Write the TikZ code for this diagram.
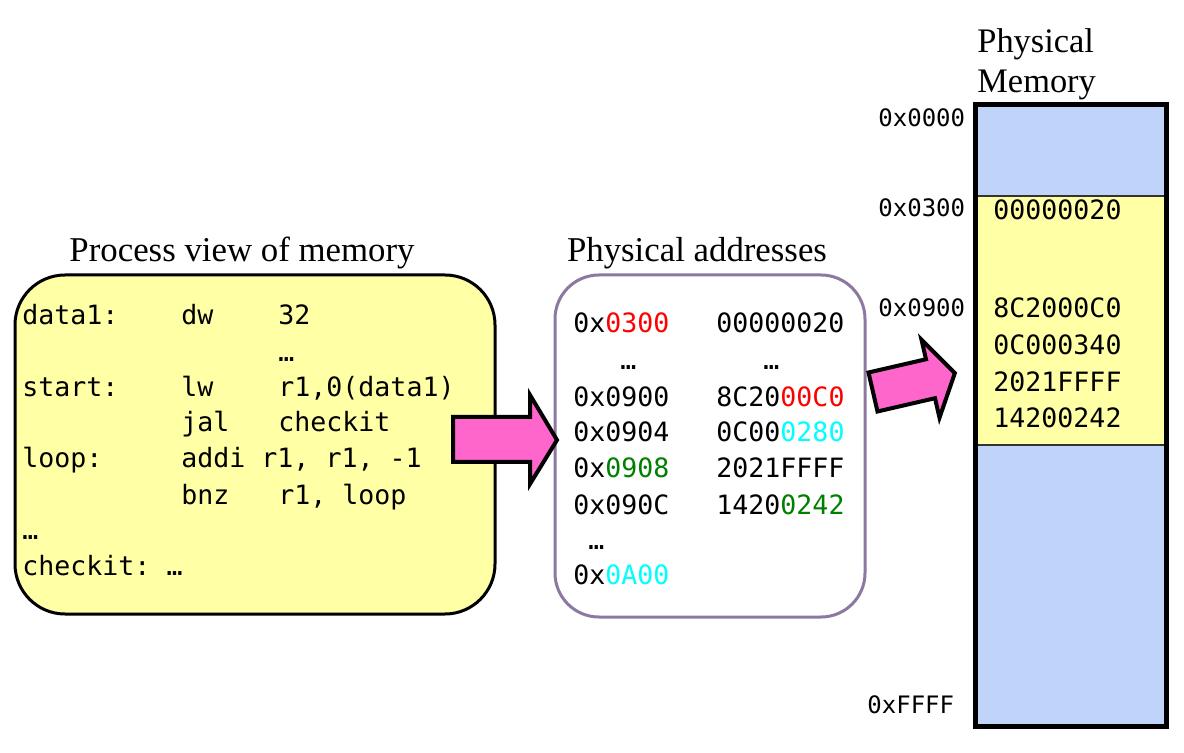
\documentclass[tikz,border=0pt]{standalone}
\usepackage{fontspec}
\setmonofont{DejaVu Sans Mono}
\newfontfamily\titlefont{Liberation Serif}
\definecolor{codeyellow}{RGB}{255,255,166}
\definecolor{memblue}{RGB}{192,212,250}
\definecolor{arrowpink}{RGB}{255,102,204}
\definecolor{boxpurple}{RGB}{140,120,160}
\definecolor{cred}{RGB}{255,0,0}
\definecolor{ccyan}{RGB}{0,255,255}
\definecolor{cgreen}{RGB}{0,128,0}
\begin{document}
\begin{tikzpicture}[x=0.5pt,y=-0.5pt,
  code/.style={anchor=base west, inner sep=0pt, font=\ttfamily\fontsize{13.3}{16}\selectfont},
  addr/.style={anchor=base west, inner sep=0pt, font=\ttfamily\fontsize{12}{14}\selectfont},
  title/.style={anchor=base, inner sep=0pt, font=\titlefont\fontsize{17.4}{20}\selectfont},
  memtitle/.style={anchor=base west, inner sep=0pt, font=\titlefont\fontsize{17.2}{20}\selectfont},
  procbox/.style={draw=black, line width=1.5pt, fill=codeyellow, rounded corners=25pt, inner sep=0pt},
  physbox/.style={draw=boxpurple, line width=1.5pt, fill=white, rounded corners=22pt, inner sep=0pt},
  blockarrow/.style={draw=black, line width=2pt, fill=arrowpink, line join=miter},
  memblock/.style={draw=black!80, line width=1pt, inner sep=0pt, minimum width=94.5pt},
]
\useasboundingbox (0,0) rectangle (1184,753);

% ---------- Process view ----------
\node[title] (ptitle) at (242,262) {Process view of memory};
\node[procbox, minimum width=240pt, minimum height=169.5pt] (proc) at (255,444.5) {};
\node[code] (c1a) at (22,325) {data1:};
\node[code] (c1b) at (181,325) {dw};
\node[code] (c1c) at (278,325) {32};
\node[code] (c2c) at (278,362) {…};
\node[code] (c3a) at (22,397) {start:};
\node[code] (c3b) at (181,397) {lw};
\node[code] (c3c) at (278,397) {r1,0(data1)};
\node[code] (c4b) at (181,432) {jal};
\node[code] (c4c) at (278,432) {checkit};
\node[code] (c5a) at (22,468) {loop:};
\node[code] (c5b) at (181,468) {addi r1, r1, -1};
\node[code] (c6b) at (181,505) {bnz};
\node[code] (c6c) at (278,505) {r1, loop};
\node[code] (c7a) at (22,540) {…};
\node[code] (c8a) at (22,575) {checkit: …};

% ---------- Physical addresses ----------
\node[title] (atitle) at (697,262) {Physical addresses};
\node[physbox, minimum width=155pt, minimum height=171pt] (phys) at (710,446) {};
\node[code] (p1a) at (573,333) {0x\textcolor{cred}{0300}};
\node[code] (p1b) at (716,333) {00000020};
\node[code] (p2a) at (620,370) {…};
\node[code] (p2b) at (763,370) {…};
\node[code] (p3a) at (573,407) {0x0900};
\node[code] (p3b) at (716,407) {8C20\textcolor{cred}{00C0}};
\node[code] (p4a) at (573,442) {0x0904};
\node[code] (p4b) at (716,442) {0C00\textcolor{ccyan}{0280}};
\node[code] (p5a) at (573,478) {0x\textcolor{cgreen}{0908}};
\node[code] (p5b) at (716,478) {2021FFFF};
\node[code] (p6a) at (573,515) {0x090C};
\node[code] (p6b) at (716,515) {1420\textcolor{cgreen}{0242}};
\node[code] (p7a) at (588,550) {…};
\node[code] (p8a) at (573,585) {0x\textcolor{ccyan}{0A00}};

% ---------- Arrow 1 ----------
\draw[blockarrow] (453,417) -- (530,417) -- (530,395) -- (557,440)
  -- (530,484) -- (530,462) -- (453,462) -- cycle;

% ---------- Physical memory ----------
\node[memtitle] (mt1) at (977,53) {Physical};
\node[memtitle] (mt2) at (977,93) {Memory};
\node[memblock, fill=memblue, minimum height=45pt, anchor=north west] (mtop) at (975.5,105) {};
\node[memblock, fill=codeyellow, minimum height=124.5pt, anchor=north west] (mmid) at (975.5,195) {};
\node[memblock, fill=memblue, minimum height=140.25pt, anchor=north west] (mbot) at (975.5,444) {};
\draw[line width=2.5pt] (mtop.north west) rectangle (mbot.south east);

\node[addr] (a0) at (878,127) {0x0000};
\node[addr] (a1) at (878,217) {0x0300};
\node[addr] (a2) at (878,317) {0x0900};
\node[addr] (a3) at (867,713) {0xFFFF};

\node[code] (m1) at (993,220) {00000020};
\node[code] (m2) at (993,318) {8C2000C0};
\node[code] (m3) at (993,355) {0C000340};
\node[code] (m4) at (993,392) {2021FFFF};
\node[code] (m5) at (993,428) {14200242};

% ---------- Arrow 2 ----------
\begin{scope}[shift={(873,392)}, rotate=13]
\draw[blockarrow] (0,-20) -- (59,-20) -- (59,-40) -- (84,0)
  -- (59,40) -- (59,20) -- (0,20) -- cycle;
\end{scope}
\end{tikzpicture}
\end{document}
